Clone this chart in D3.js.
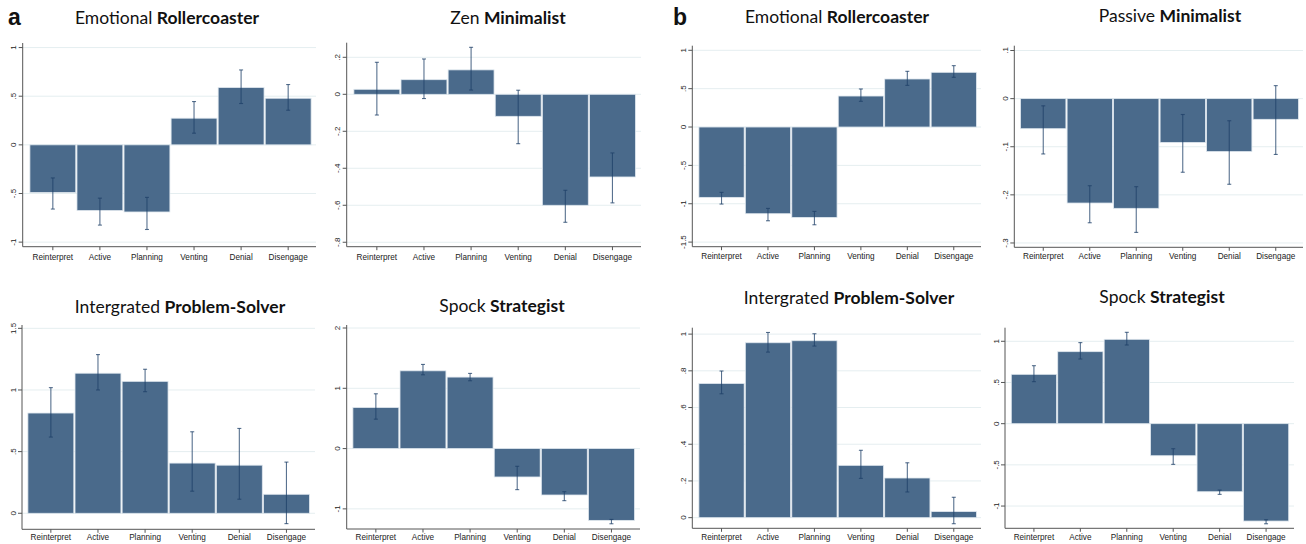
<!DOCTYPE html>
<html><head><meta charset="utf-8">
<script src="https://cdn.jsdelivr.net/npm/d3@7/dist/d3.min.js"></script>
<style>body{margin:0;background:#fff} svg{display:block}</style>
</head><body><svg id="c" width="1306" height="544"></svg>
<script>
// ---------- DATA ----------
const categories = ["Reinterpret", "Active", "Planning", "Venting", "Denial", "Disengage"];
const panelLetters = ["a", "b"];

const titleRegular = ["Emotional", "Zen", "Emotional", "Passive", "Intergrated", "Spock", "Intergrated", "Spock"];
const titleBold = ["Rollercoaster", "Minimalist", "Rollercoaster", "Minimalist", "Problem-Solver", "Strategist", "Problem-Solver", "Strategist"];

// a: Emotional Rollercoaster
const aRollerMean = [-0.49, -0.675, -0.69, 0.274, 0.589, 0.479];
const aRollerLo   = [-0.66, -0.825, -0.87, 0.12, 0.425, 0.356];
const aRollerHi   = [-0.34, -0.548, -0.54, 0.445, 0.77, 0.62];
// a: Zen Minimalist
const aZenMean = [0.027, 0.079, 0.132, -0.119, -0.6, -0.447];
const aZenLo   = [-0.112, -0.023, 0.023, -0.267, -0.692, -0.587];
const aZenHi   = [0.173, 0.191, 0.254, 0.022, -0.519, -0.317];
// b: Emotional Rollercoaster
const bRollerMean = [-0.917, -1.13, -1.178, 0.404, 0.626, 0.713];
const bRollerLo   = [-1.004, -1.222, -1.274, 0.335, 0.543, 0.648];
const bRollerHi   = [-0.852, -1.061, -1.1, 0.496, 0.726, 0.8];
// b: Passive Minimalist
const bPassiveMean = [-0.0625, -0.217, -0.228, -0.091, -0.11, -0.043];
const bPassiveLo   = [-0.115, -0.258, -0.278, -0.153, -0.178, -0.116];
const bPassiveHi   = [-0.015, -0.181, -0.183, -0.033, -0.046, 0.027];
// a: Integrated Problem-Solver
const aSolverMean = [0.813, 1.136, 1.07, 0.407, 0.39, 0.154];
const aSolverLo   = [0.618, 1.0, 0.986, 0.179, 0.114, -0.084];
const aSolverHi   = [1.019, 1.287, 1.168, 0.661, 0.688, 0.415];
// a: Spock Strategist
const aSpockMean = [0.681, 1.29, 1.186, -0.471, -0.77, -1.191];
const aSpockLo   = [0.488, 1.224, 1.125, -0.681, -0.864, -1.247];
const aSpockHi   = [0.909, 1.396, 1.247, -0.294, -0.715, -1.175];
// b: Integrated Problem-Solver
const bSolverMean = [0.731, 0.953, 0.964, 0.285, 0.216, 0.033];
const bSolverLo   = [0.675, 0.902, 0.935, 0.214, 0.14, -0.033];
const bSolverHi   = [0.799, 1.009, 1.002, 0.367, 0.299, 0.111];
// b: Spock Strategist
const bSpockMean = [0.599, 0.874, 1.024, -0.389, -0.826, -1.182];
const bSpockLo   = [0.51, 0.785, 0.955, -0.494, -0.858, -1.215];
const bSpockHi   = [0.704, 0.984, 1.109, -0.304, -0.806, -1.166];

// y tick values and labels per panel
const ticksRoller  = [-1, -0.5, 0, 0.5, 1];
const labelsRoller = ["-1", "-.5", "0", ".5", "1"];
const ticksZen  = [-0.8, -0.6, -0.4, -0.2, 0, 0.2];
const labelsZen = ["-.8", "-.6", "-.4", "-.2", "0", ".2"];
const ticksRollerB  = [-1.5, -1, -0.5, 0, 0.5, 1];
const labelsRollerB = ["-1.5", "-1", "-.5", "0", ".5", "1"];
const ticksPassive  = [-0.3, -0.2, -0.1, 0, 0.1];
const labelsPassive = ["-.3", "-.2", "-.1", "0", ".1"];
const ticksSolver  = [0, 0.5, 1, 1.5];
const labelsSolver = ["0", ".5", "1", "1.5"];
const ticksSpock  = [-1, 0, 1, 2];
const labelsSpock = ["-1", "0", "1", "2"];
const ticksSolverB  = [0, 0.2, 0.4, 0.6, 0.8, 1];
const labelsSolverB = ["0", ".2", ".4", ".6", ".8", "1"];
const ticksSpockB  = [-1, -0.5, 0, 0.5, 1];
const labelsSpockB = ["-1", "-.5", "0", ".5", "1"];

// axis extent (data units) per panel
const yExtents = [[-1.047, 1.047], [-0.824, 0.279], [-1.56, 1.06], [-0.309, 0.11],
                  [-0.13, 1.527], [-1.334, 2.05], [-0.058, 1.035], [-1.27, 1.165]];

const seriesMean = [aRollerMean, aZenMean, bRollerMean, bPassiveMean, aSolverMean, aSpockMean, bSolverMean, bSpockMean];
const seriesLo = [aRollerLo, aZenLo, bRollerLo, bPassiveLo, aSolverLo, aSpockLo, bSolverLo, bSpockLo];
const seriesHi = [aRollerHi, aZenHi, bRollerHi, bPassiveHi, aSolverHi, aSpockHi, bSolverHi, bSpockHi];
const tickVals = [ticksRoller, ticksZen, ticksRollerB, ticksPassive, ticksSolver, ticksSpock, ticksSolverB, ticksSpockB];
const tickLabs = [labelsRoller, labelsZen, labelsRollerB, labelsPassive, labelsSolver, labelsSpock, labelsSolverB, labelsSpockB];

// ---------- LAYOUT (pixels) ----------
const layout = [
  {ax: 22.7,  bl: 29.3,   br: 311.7,  gr: 316,  top: 43,    bot: 246.7, tx: 167,   ty: 24,    lab: 10},
  {ax: 346.7, bl: 353.3,  br: 636,    gr: 641,  top: 42.7,  bot: 246.7, tx: 508,   ty: 24,    lab: 10},
  {ax: 692.3, bl: 698.3,  br: 977,    gr: 981,  top: 45.7,  bot: 246.7, tx: 837,   ty: 23,    lab: 9.5},
  {ax: 1014.3,bl: 1020,   br: 1299,   gr: 1303, top: 45.7,  bot: 247.3, tx: 1170,  ty: 22,    lab: 9},
  {ax: 22,    bl: 27.3,   br: 310,    gr: 315,  top: 325,   bot: 529.3, tx: 180,   ty: 313,   lab: 8},
  {ax: 346.7, bl: 352.3,  br: 635,    gr: 640,  top: 325,   bot: 529,   tx: 502,   ty: 312,   lab: 8},
  {ax: 692.3, bl: 698.3,  br: 977,    gr: 981,  top: 327.7, bot: 528.3, tx: 849,   ty: 303.5, lab: 9},
  {ax: 1005,  bl: 1010.7, br: 1289.3, gr: 1294, top: 327.7, bot: 528.3, tx: 1162,  ty: 302.5, lab: 9}
];
const letterPos = [{x: 8, y: 25}, {x: 673, y: 25}];

const barColor = "#4a6a8b";
const errColor = "#1f4068";

const svg = d3.select("#c");

panelLetters.forEach((l, i) => {
  svg.append("text").attr("x", letterPos[i].x).attr("y", letterPos[i].y)
    .attr("font-family", "Liberation Sans, Arial, sans-serif").attr("font-weight", "bold")
    .attr("font-size", 23).attr("fill", "#111").text(l);
});

layout.forEach((L, p) => {
  const g = svg.append("g");
  const y = d3.scaleLinear().domain(yExtents[p]).range([L.bot, L.top]);
  const x = d3.scaleBand().domain(categories).range([L.bl, L.br]).padding(0);

  // gridlines
  g.selectAll("line.grid").data(tickVals[p]).enter().append("line")
    .attr("x1", L.ax).attr("x2", L.gr)
    .attr("y1", d => y(d)).attr("y2", d => y(d))
    .attr("stroke", "#e5eef0").attr("stroke-width", 1);

  // bars
  const means = seriesMean[p];
  g.selectAll("rect.bar").data(categories).enter().append("rect")
    .attr("x", d => x(d) + 0.6)
    .attr("width", x.bandwidth() - 1.2)
    .attr("y", (d, i) => Math.min(y(0), y(means[i])))
    .attr("height", (d, i) => Math.abs(y(means[i]) - y(0)))
    .attr("fill", barColor).attr("stroke", "#dfe7ee").attr("stroke-width", 0.8);

  // error bars
  const lo = seriesLo[p], hi = seriesHi[p];
  categories.forEach((c, i) => {
    const cx = x(c) + x.bandwidth() / 2;
    const eg = g.append("g").attr("stroke", errColor).attr("stroke-opacity", 0.75).attr("stroke-width", 1.1);
    eg.append("line").attr("x1", cx).attr("x2", cx).attr("y1", y(lo[i])).attr("y2", y(hi[i]));
    eg.append("line").attr("x1", cx - 2).attr("x2", cx + 2).attr("y1", y(lo[i])).attr("y2", y(lo[i]));
    eg.append("line").attr("x1", cx - 2).attr("x2", cx + 2).attr("y1", y(hi[i])).attr("y2", y(hi[i]));
  });

  // y axis
  g.append("line").attr("x1", L.ax).attr("x2", L.ax).attr("y1", L.top).attr("y2", L.bot)
    .attr("stroke", "#555").attr("stroke-width", 1);
  g.selectAll("line.yt").data(tickVals[p]).enter().append("line")
    .attr("x1", L.ax - 4).attr("x2", L.ax).attr("y1", d => y(d)).attr("y2", d => y(d))
    .attr("stroke", "#555").attr("stroke-width", 1);
  g.selectAll("text.yl").data(tickVals[p]).enter().append("text")
    .attr("transform", d => `translate(${L.ax - 6.5},${y(d)}) rotate(-90)`)
    .attr("text-anchor", "middle")
    .attr("font-family", "Liberation Sans, Arial, sans-serif").attr("font-size", 8).attr("fill", "#222")
    .text((d, i) => tickLabs[p][i]);

  // x axis
  g.append("line").attr("x1", L.ax).attr("x2", L.gr).attr("y1", L.bot).attr("y2", L.bot)
    .attr("stroke", "#555").attr("stroke-width", 1);
  g.selectAll("line.xt").data(categories).enter().append("line")
    .attr("x1", d => x(d) + x.bandwidth() / 2).attr("x2", d => x(d) + x.bandwidth() / 2)
    .attr("y1", L.bot).attr("y2", L.bot + 3.5)
    .attr("stroke", "#555").attr("stroke-width", 1);
  g.selectAll("text.xl").data(categories).enter().append("text")
    .attr("x", d => x(d) + x.bandwidth() / 2).attr("y", L.bot + L.lab + 3)
    .attr("text-anchor", "middle")
    .attr("font-family", "Liberation Sans, Arial, sans-serif").attr("font-size", 8.2).attr("fill", "#222")
    .text(d => d);

  // title
  const t = g.append("text").attr("x", L.tx).attr("y", L.ty).attr("text-anchor", "middle")
    .attr("font-family", "Lato, 'Open Sans', sans-serif").attr("font-size", 17.5).attr("fill", "#111");
  t.append("tspan").attr("font-weight", 400).text(titleRegular[p] + " ");
  t.append("tspan").attr("font-weight", "bold").text(titleBold[p]);
});
</script>
</body></html>
